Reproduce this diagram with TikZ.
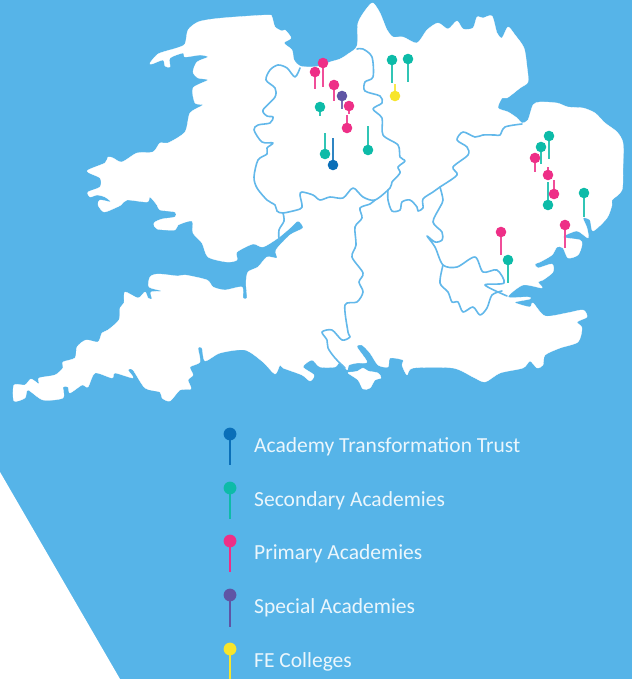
\documentclass[tikz,border=0pt]{standalone}
\usepackage{fontspec}
\setmainfont{Carlito}
\definecolor{sea}{HTML}{56B4E8}
\definecolor{river}{HTML}{62B8EA}
\definecolor{pinblue}{HTML}{0A6FB8}
\definecolor{pingreen}{HTML}{0DBBA8}
\definecolor{pinpink}{HTML}{EE2F87}
\definecolor{pinpurple}{HTML}{5F55A5}
\definecolor{pinyellow}{HTML}{F7E52B}
\tikzset{
  land/.style={fill=white,draw=white,line width=0.3pt},
  rivercourse/.style={draw=river,line width=1.6pt,line join=round,line cap=round},
  legendtext/.style={anchor=base west,inner sep=0pt,text=white!88!sea,font=\fontsize{21.5}{26}\selectfont},
}
\newcommand{\mappin}[4]{%
  \draw[#1!85!white,line width=1.6pt] (#2,#3) -- (#2,#4);
  \fill[#1] (#2,#3) circle (5.3);}
\newcommand{\legendpin}[4]{%
  \draw[#1,line width=2.7pt] (230,#2) -- (230,#3);
  \fill[#1] (230,#2) circle (6.4);
  \node[legendtext] (#1-label) at (254,#2+18.5) {#4};}
\begin{document}
\begin{tikzpicture}[x=1pt,y=-1pt]
\useasboundingbox (0,0) rectangle (632,679);
\fill[sea] (0,0) rectangle (632,679);
\fill[white] (0,472) -- (120,679) -- (0,679) -- cycle;
% mainland
\path[land] plot[smooth cycle,tension=0.45] coordinates {
(150,63)(158,54)(170,50)(177,48)(185,44)(188,30)(198,22)(213,19)(235,17)(268,15)(272,17)(275,27)(282,31)(285,30)(291,38)(284,43)(292,50)(294,60)(300,66)
(310,67)(320,66)(330,62)(340,59)(348,54)(357,46)(358,23)(367,8)(373,3)(380,13)(387,30)(393,37)(403,37)(417,43)(427,30)(438,23)(448,29)(457,21)(463,29)(473,28)(477,17)(483,18)(492,16)(497,33)(502,38)(508,27)(515,35)(524,48)(527,67)(528,82)(520,88)(507,98)(502,98)(498,108)(508,112)(517,118)(522,123)(528,120)(533,105)(540,102)(557,103)(568,107)(583,108)(595,113)(605,123)(617,132)(623,143)(623,167)(622,190)(612,200)(612,205)(607,218)(593,231)(590,220)(583,218)
(587,228)(588,238)(577,231)(563,237)(580,240)(582,245)(578,255)(568,258)(563,248)(557,247)(552,255)(540,262)(535,264)(538,268)(552,264)(553,272)(543,280)(538,282)(542,288)(523,285)(508,297)(528,297)(530,299)(515,302)(518,304)(530,307)(533,303)(545,316)(567,313)(583,310)(587,317)(577,322)(582,328)(578,342)(560,348)(545,355)(543,365)(537,368)(530,361)(523,368)(500,373)(485,382)(473,377)(453,368)(413,368)(407,375)(402,365)(403,360)(390,358)(388,367)(378,365)(370,353)(362,345)(357,347)(367,362)(357,363)(349,365)(347,370)(340,362)(335,367)(320,367)
(312,360)(303,367)(314,375)(310,381)(302,375)(283,368)(280,365)(275,374)(263,362)(245,350)(220,353)(205,361)(202,348)(198,348)(200,362)(190,367)(193,375)(188,380)(191,389)(180,390)(170,401)(162,398)(160,392)(145,388)(133,370)(128,370)(133,378)(115,373)(112,378)(95,373)(88,387)(82,385)(70,393)(68,387)(63,387)(63,398)(43,400)(28,390)(25,398)(14,401)(14,385)(25,385)(31,379)(39,384)(39,378)(55,375)(63,368)(63,362)(75,358)(77,347)(86,340)(98,342)(102,333)(108,330)(119,320)(120,308)(124,303)(125,292)(138,298)(145,292)(148,298)(152,299)(151,292)(162,291)(149,287)(150,277)(158,274)(178,276)(185,275)(207,280)(213,287)(225,290)(242,287)(243,298)(247,298)(246,283)(248,272)(258,267)(267,257)(277,258)(276,250)(290,235)(303,228)(298,221)(290,228)(278,238)(263,247)(253,244)(237,252)(237,260)(227,262)(208,257)(202,243)(193,233)(192,221)(178,225)(175,230)(157,229)(154,223)(162,219)(175,217)(175,212)(160,210)(157,205)(150,197)(147,202)(127,200)(121,205)(115,208)(104,212)(98,205)(100,200)(111,202)(105,197)(97,195)(90,197)(88,192)(100,187)(100,178)(87,171)(105,163)(108,157)(113,158)(122,162)(137,153)(153,152)(160,143)(168,143)(185,132)(190,113)(203,105)(195,103)(193,88)(208,80)(198,78)(193,72)(197,62)(208,57)(200,55)(185,57)(183,53)(170,58)(170,67)(165,66)(163,60)(152,64)};
% Isle of Wight
\path[land] plot[smooth cycle,tension=0.5] coordinates {(348,373)(353,372)(358,371)(363,368)(368,371)(378,373)(381,378)(375,380)(370,388)(363,389)(358,380)};
% rivers
\draw[rivercourse] plot[smooth,tension=0.5] coordinates {(300,68)(295,77)(287,68)(278,65)(270,70)(266,80)(275,88)(275,97)(263,110)(267,116)(273,117)(270,123)(258,125)(254,130)(262,142)(273,143)(267,148)(267,154)(258,160)(254,177)(257,188)(267,200)(275,205)(277,211)(283,213)(300,209)(302,205)(300,195)(302,192)(313,195)(320,200)(330,197)(343,198)(353,188)(363,197)(375,200)(390,188)(392,182)(400,173)(398,167)(405,161)(400,157)(398,145)(383,135)(382,118)(373,109)(382,103)(380,96)(365,91)(365,82)(373,77)(372,57)(363,49)(357,49)};
\draw[rivercourse] plot[smooth,tension=0.5] coordinates {(283,213)(284,221)(279,230)(279,240)};
\draw[rivercourse] plot[smooth,tension=0.5] coordinates {(375,200)(370,204)(360,208)(362,218)(355,227)(356,245)(352,257)(363,273)(359,282)(363,292)(357,302)(345,305)(348,332)(350,337)(342,340)(332,330)(322,332)(327,340)(328,348)(335,358)(345,368)};
\draw[rivercourse] plot[smooth,tension=0.5] coordinates {(388,190)(388,200)(392,211)(400,210)(402,202)(410,200)(417,207)(418,211)(423,208)(423,199)(433,192)(440,187)(457,175)(453,167)(468,155)(467,147)(457,140)(463,132)(475,137)(483,135)(495,135)(500,135)(505,127)(522,124)};
\draw[rivercourse] plot[smooth,tension=0.5] coordinates {(440,187)(443,200)(440,207)(433,222)(442,232)(442,240)(435,242)(427,236)(435,247)(443,265)(457,267)(475,257)(483,272)(497,270)(504,283)(485,285)(507,296)};
\draw[rivercourse] plot[smooth,tension=0.5] coordinates {(443,265)(440,283)(448,292)(452,302)(458,302)(463,312)(473,307)(480,315)(487,308)(492,295)(502,291)};
% map pins
\mappin{pinpink}{323}{63}{87}
\mappin{pinpink}{315}{72}{89}
\mappin{pinpink}{334}{85}{101}
\mappin{pinpink}{349}{106}{114}
\mappin{pinpink}{347}{128}{115}
\mappin{pinpurple}{342}{96}{109}
\mappin{pingreen}{320}{107}{116}
\mappin{pingreen}{325}{154}{133}
\mappin{pinblue}{333}{165}{138}
\mappin{pingreen}{368}{150}{126}
\mappin{pingreen}{392}{60}{83}
\mappin{pingreen}{408}{59}{82}
\mappin{pinyellow}{395}{96}{84}
\mappin{pingreen}{549}{136}{159}
\mappin{pingreen}{541}{147}{164}
\mappin{pinpink}{535}{158}{172}
\mappin{pinpink}{548}{175}{167}
\mappin{pingreen}{548}{205}{182}
\mappin{pinpink}{554}{194}{180}
\mappin{pingreen}{584}{193}{217}
\mappin{pinpink}{565}{225}{248}
\mappin{pinpink}{501}{232}{255}
\mappin{pingreen}{508}{260}{283}
% legend
\legendpin{pinblue}{434}{465}{Academy Transformation Trust}
\legendpin{pingreen}{488}{519}{Secondary Academies}
\legendpin{pinpink}{541}{572}{Primary Academies}
\legendpin{pinpurple}{595}{627}{Special Academies}
\legendpin{pinyellow}{649}{680}{FE Colleges}
\end{tikzpicture}
\end{document}
